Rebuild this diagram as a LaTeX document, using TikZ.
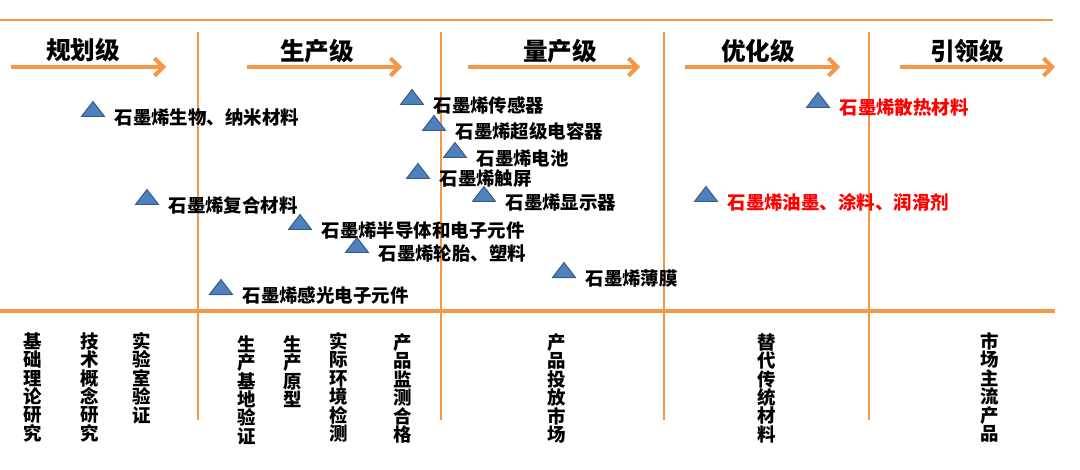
\documentclass[tikz,border=0pt]{standalone}
\usepackage{fontspec}
\setmainfont{Noto Sans CJK SC}
\usetikzlibrary{shapes.geometric}
\usetikzlibrary{positioning}
\usetikzlibrary{arrows.meta}
\definecolor{stageorange}{HTML}{F79646}
\definecolor{triblue}{HTML}{4F81BD}
\definecolor{triedge}{HTML}{385D8A}
\tikzset{
    tri/.style = {isosceles triangle, shape border rotate=90, isosceles triangle stretches, minimum width=13pt, minimum height=8.5pt, inner sep=0pt, fill=triblue, draw=triedge, line width=0.6pt, anchor=south},
    itemlabel/.style = {inner sep=0pt, font=\fontsize{10.5}{12}\selectfont\bfseries, text=black},
    itemlabelr/.style = {itemlabel, text=red},
    stagehead/.style = {inner sep=0pt, font=\fontsize{14}{16}\selectfont\bfseries, text=black},
    vlabel/.style = {anchor=north, align=center, inner sep=0pt, font=\fontsize{10.5}{10.5}\selectfont\bfseries},
    stagearrow/.style = {-{Straight Barb[length=5pt,width=10pt]}, line width=2.3pt, stageorange},
    divider/.style = {-, line width=0.8pt, stageorange},
}
\begin{document}
\begin{tikzpicture}[x=0.02cm, y=-0.02cm]
  \useasboundingbox (0,0) rectangle (1080,470);

  % frame lines
  \draw[divider] (0,20) -- (1053,20);
  \draw[divider, line width=1.8pt] (0,311) -- (1055,311);
  \foreach \x in {198,441,664,869}
    \draw[divider] (\x,32) -- (\x,420);

  % stages
  \node[stagehead] (h1) at (83,50) {规划级};
  \node[stagehead] (h2) at (317,51) {生产级};
  \node[stagehead] (h3) at (560,51) {量产级};
  \node[stagehead] (h4) at (758,51) {优化级};
  \node[stagehead] (h5) at (967,51) {引领级};
  \foreach \a/\b in {11/166, 247/402, 468/640, 685/840, 900/1055}
    \draw[stagearrow] (\a,67) -- (\b,67);

  % products
  \node[tri] (t1) at (93,117) {};
  \node[itemlabel, right=5pt of t1.right corner] (l1) {石墨烯生物、纳米材料};
  \node[tri] (t2) at (147,205) {};
  \node[itemlabel, right=5pt of t2.right corner] (l2) {石墨烯复合材料};
  \node[tri] (t3) at (300,230) {};
  \node[itemlabel, right=5pt of t3.right corner] (l3) {石墨烯半导体和电子元件};
  \node[tri] (t4) at (357,253) {};
  \node[itemlabel, right=5pt of t4.right corner] (l4) {石墨烯轮胎、塑料};
  \node[tri] (t5) at (221,295) {};
  \node[itemlabel, right=5pt of t5.right corner] (l5) {石墨烯感光电子元件};
  \node[tri] (t6) at (412,105) {};
  \node[itemlabel, right=5pt of t6.right corner] (l6) {石墨烯传感器};
  \node[tri] (t7) at (434,131) {};
  \node[itemlabel, right=5pt of t7.right corner] (l7) {石墨烯超级电容器};
  \node[tri] (t8) at (455,158) {};
  \node[itemlabel, right=5pt of t8.right corner] (l8) {石墨烯电池};
  \node[tri] (t9) at (418,179) {};
  \node[itemlabel, right=5pt of t9.right corner] (l9) {石墨烯触屏};
  \node[tri] (t10) at (484,202) {};
  \node[itemlabel, right=5pt of t10.right corner] (l10) {石墨烯显示器};
  \node[tri] (t11) at (564,278) {};
  \node[itemlabel, right=5pt of t11.right corner] (l11) {石墨烯薄膜};
  \node[tri] (t12) at (818,108) {};
  \node[itemlabelr, right=5pt of t12.right corner] (l12) {石墨烯散热材料};
  \node[tri] (t13) at (706,202) {};
  \node[itemlabelr, right=5pt of t13.right corner] (l13) {石墨烯油墨、涂料、润滑剂};

  % milestones
  \node[vlabel] (m1) at (33,332) {基\\础\\理\\论\\研\\究};
  \node[vlabel] (m2) at (90,332) {技\\术\\概\\念\\研\\究};
  \node[vlabel] (m3) at (142,332) {实\\验\\室\\验\\证};
  \node[vlabel] (m4) at (247,335) {生\\产\\基\\地\\验\\证};
  \node[vlabel] (m5) at (293,335) {生\\产\\原\\型};
  \node[vlabel] (m6) at (339,332) {实\\际\\环\\境\\检\\测};
  \node[vlabel] (m7) at (403,333) {产\\品\\监\\测\\合\\格};
  \node[vlabel] (m8) at (557,333) {产\\品\\投\\放\\市\\场};
  \node[vlabel] (m9) at (767,333) {替\\代\\传\\统\\材\\料};
  \node[vlabel] (m10) at (990,332) {市\\场\\主\\流\\产\\品};
\end{tikzpicture}
\end{document}
